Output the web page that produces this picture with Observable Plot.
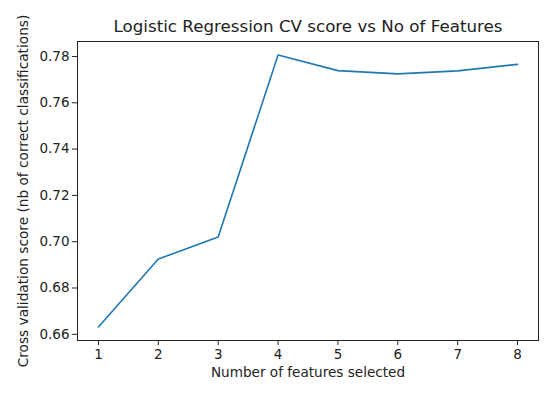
<!DOCTYPE html>
<html>
<head>
<meta charset="utf-8">
<script src="https://cdn.jsdelivr.net/npm/d3@7"></script>
<script src="https://cdn.jsdelivr.net/npm/@observablehq/plot@0.6"></script>
<style>
  html, body { margin: 0; padding: 0; background: #fff; }
</style>
</head>
<body>
<div id="chart"></div>
<script>
const features = [1, 2, 3, 4, 5, 6, 7, 8];
const scores = [0.6632, 0.6925, 0.7020, 0.7806, 0.7739, 0.7725, 0.7738, 0.7766];
const xTicks = [1, 2, 3, 4, 5, 6, 7, 8];
const yTicks = [0.66, 0.68, 0.70, 0.72, 0.74, 0.76, 0.78];
const titleText = "Logistic Regression CV score vs No of Features";
const xLabel = "Number of features selected";
const yLabel = "Cross validation score (nb of correct classifications)";

const data = features.map((f, i) => ({f, s: scores[i]}));

// matplotlib-like 5% margins
const xmin = d3.min(features), xmax = d3.max(features);
const ymin = d3.min(scores), ymax = d3.max(scores);
const xm = (xmax - xmin) * 0.05, ym = (ymax - ymin) * 0.05;

const chart = Plot.plot({
  width: 558,
  height: 397,
  marginLeft: 77,
  marginTop: 41,
  marginRight: 20,
  marginBottom: 57,
  style: {fontFamily: "DejaVu Sans", fontSize: "13.5px", color: "#222", background: "#fff"},
  x: {domain: [xmin - xm, xmax + xm]},
  y: {domain: [ymin - ym, ymax + ym]},
  marks: [
    Plot.line(data, {x: "f", y: "s", stroke: "#1f77b4", strokeWidth: 1.6}),
    Plot.frame({stroke: "#222", strokeWidth: 1}),
    Plot.axisX({ticks: xTicks, tickSize: 5, tickPadding: 4, tickFormat: d3.format("d"), label: null, fontSize: 13.5}),
    Plot.axisY({ticks: yTicks, tickSize: 5, tickPadding: 3, tickFormat: d3.format(".2f"), label: null, fontSize: 13.5}),
    Plot.text([titleText], {frameAnchor: "top", dy: -10, lineAnchor: "bottom", fontSize: 16.7, fill: "#222"}),
    Plot.text([xLabel], {frameAnchor: "bottom", dy: 27, lineAnchor: "top", fontSize: 13.6, fill: "#222"}),
    Plot.text([yLabel], {frameAnchor: "left", dx: -53.5, rotate: -90, textAnchor: "middle", fontSize: 13.7, fill: "#222"})
  ]
});
document.getElementById("chart").appendChild(chart);
</script>
</body>
</html>
